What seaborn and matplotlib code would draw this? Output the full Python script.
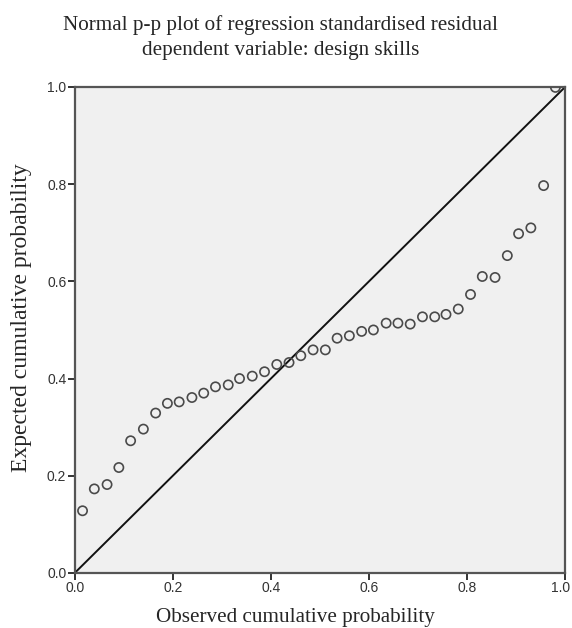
import seaborn as sns
import matplotlib.pyplot as plt
import matplotlib.transforms as mtransforms
import pandas as pd

# observed vs expected cumulative probabilities
observed = [0.016, 0.040, 0.066, 0.090, 0.114, 0.140, 0.165, 0.189, 0.213, 0.239,
            0.263, 0.287, 0.313, 0.336, 0.362, 0.387, 0.412, 0.437, 0.461, 0.486,
            0.511, 0.535, 0.560, 0.585, 0.609, 0.635, 0.659, 0.684, 0.709, 0.734,
            0.757, 0.782, 0.807, 0.831, 0.857, 0.882, 0.905, 0.930, 0.956, 0.980]
expected = [0.128, 0.173, 0.182, 0.217, 0.272, 0.296, 0.329, 0.349, 0.352, 0.361,
            0.370, 0.383, 0.387, 0.400, 0.405, 0.414, 0.429, 0.433, 0.447, 0.459,
            0.459, 0.483, 0.488, 0.497, 0.500, 0.514, 0.514, 0.512, 0.527, 0.527,
            0.532, 0.543, 0.573, 0.610, 0.608, 0.653, 0.698, 0.710, 0.797, 0.999]
ref_line = [0.0, 1.0]
ticks = [0.0, 0.2, 0.4, 0.6, 0.8, 1.0]

df = pd.DataFrame({"observed": observed, "expected": expected})

sns.set_style("ticks")
plt.rcParams['font.family'] = ['Liberation Sans', 'DejaVu Sans']

fig = plt.figure(figsize=(5.72, 6.28), dpi=100)
ax = fig.add_axes([0.1306, 0.0876, 0.8575, 0.774])
ax.set_facecolor("#f0f0f0")

ax.plot(ref_line, ref_line, color="#111111", lw=1.4, zorder=2)
sns.scatterplot(data=df, x="observed", y="expected", ax=ax, marker="o",
                s=44, facecolor="none", edgecolor="#4a4a4a", linewidth=1.2, zorder=3)

ax.set_xlim(0, 1)
ax.set_ylim(0, 1)
ax.set_xticks(ticks)
ax.set_yticks(ticks)
ax.set_xticklabels([f"{t:.1f}" for t in ticks])
ax.set_yticklabels([f"{t:.1f}" for t in ticks])
ax.tick_params(axis="both", direction="out", length=5, width=1.4, color="#333333",
               labelsize=10, labelcolor="#333333", pad=1)
for sp in ax.spines.values():
    sp.set_color("#555555")
    sp.set_linewidth(1.6)

# keep the last x tick label inside the canvas
last = ax.get_xticklabels()[-1]
last.set_transform(last.get_transform() +
                   mtransforms.ScaledTranslation(-5 / 100, 0, fig.dpi_scale_trans))

serif = ['Liberation Serif', 'DejaVu Serif']
ax.set_xlabel("")
ax.set_ylabel("")
fig.text(0.517, 0.016, "Observed cumulative probability", ha="center", va="center",
         fontsize=15.2, family=serif)
fig.text(0.038, 0.495, "Expected cumulative probability", ha="center", va="center",
         rotation=90, fontsize=17, family=serif)
fig.text(0.49, 0.940, "Normal p-p plot of regression standardised residual\n"
         "dependent variable: design skills", ha="center", va="center",
         fontsize=15.2, family=serif, linespacing=1.45)

fig.savefig("out.png", dpi=100)
